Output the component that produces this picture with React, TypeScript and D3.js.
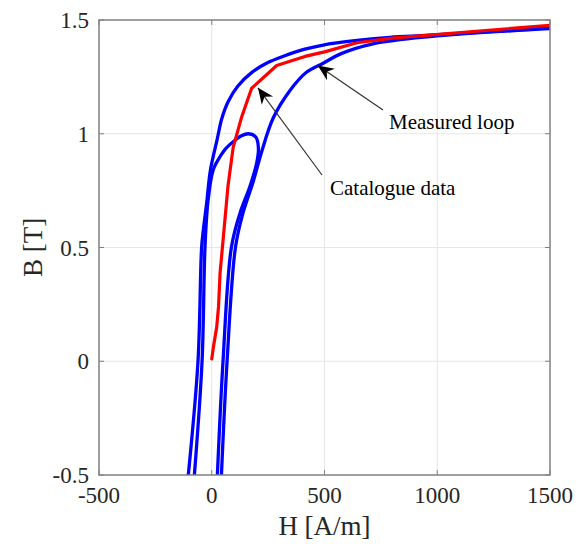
import React from "react";
import * as d3 from "d3";

// Major measured hysteresis loop, descending (upper) branch: [H (A/m), B (T)]
const majorUpper: [number, number][] = [
  [1500, 1.465], [968, 1.433], [790, 1.424], [644, 1.41], [494, 1.39], [413, 1.372],
  [324, 1.343], [249, 1.313], [178, 1.27], [116, 1.21], [72, 1.14], [44, 1.065],
  [24, 0.975], [-6, 0.84], [-22, 0.7], [-37, 0.58], [-45, 0.5], [-61, 0], [-104, -0.5],
];
// Major measured loop, ascending (lower) branch
const majorLower: [number, number][] = [
  [43, -0.5], [68, 0], [105, 0.5], [138, 0.65], [184, 0.79], [221, 0.92], [273, 1.07],
  [347, 1.19], [420, 1.27], [494, 1.31], [569, 1.35], [715, 1.395], [968, 1.427], [1500, 1.462],
];
// Minor measured loop (ascending branch then descending branch)
const minorLoop: [number, number][] = [
  [25, -0.5], [50, 0], [87, 0.5], [125, 0.65], [170, 0.77], [199, 0.87], [207, 0.935],
  [196, 0.985], [163, 1.0], [130, 0.99], [95, 0.965], [62, 0.935], [37, 0.9], [6, 0.84],
  [-17, 0.7], [-30, 0.5], [-43, 0], [-77, -0.5],
];
// Catalogue B-H curve
const catalogue: [number, number][] = [
  [0, 0.01], [7, 0.06], [22, 0.15], [30, 0.24], [37, 0.39], [50, 0.53], [72, 0.77],
  [95, 0.94], [133, 1.075], [177, 1.2], [288, 1.3], [413, 1.34], [500, 1.36], [644, 1.4],
  [800, 1.42], [1500, 1.477],
];

const xTicks = [-500, 0, 500, 1000, 1500];
const yTicks = [-0.5, 0, 0.5, 1, 1.5];
const xLabel = "H [A/m]";
const yLabel = "B [T]";
const annotations = [
  { text: "Measured loop", tip: [470, 1.3] as [number, number], tail: [383, 110], pos: [389, 129] },
  { text: "Catalogue data", tip: [205, 1.202] as [number, number], tail: [322, 175], pos: [330, 195] },
];

const W = 577, H = 544;
const L = 99, R = 550, T = 20, B = 475;

export default function App() {
  const x = d3.scaleLinear().domain([-500, 1500]).range([L, R]);
  const y = d3.scaleLinear().domain([-0.5, 1.5]).range([B, T]);
  const smooth = d3.line<[number, number]>().x(d => x(d[0])).y(d => y(d[1])).curve(d3.curveCatmullRom.alpha(0.5));
  const straight = d3.line<[number, number]>().x(d => x(d[0])).y(d => y(d[1]));
  const font = "'Liberation Serif', 'Times New Roman', serif";
  const axisColor = "#808080";

  const arrowHead = (tx: number, ty: number, fx: number, fy: number) => {
    const ang = Math.atan2(ty - fy, tx - fx);
    const len = 16, hw = 7, notch = 11;
    const pts = [
      [0, 0], [-len, -hw], [-notch, 0], [-len, hw],
    ].map(([a, b]) => [tx + a * Math.cos(ang) - b * Math.sin(ang), ty + a * Math.sin(ang) + b * Math.cos(ang)]);
    return "M" + pts.map(p => p.join(",")).join("L") + "Z";
  };

  return (
    <svg width={W} height={H} style={{ position: "absolute", left: 0, top: 0, background: "#fff" }}>
      <defs>
        <clipPath id="plot"><rect x={L} y={T} width={R - L} height={B - T} /></clipPath>
      </defs>
      {xTicks.slice(1, -1).map(t => (
        <line key={"gx" + t} x1={x(t)} x2={x(t)} y1={T} y2={B} stroke="#e6e6e6" strokeWidth={1} />
      ))}
      {yTicks.slice(1, -1).map(t => (
        <line key={"gy" + t} x1={L} x2={R} y1={y(t)} y2={y(t)} stroke="#e6e6e6" strokeWidth={1} />
      ))}
      <g clipPath="url(#plot)" fill="none" strokeLinejoin="round" strokeLinecap="round">
        <path d={smooth(majorUpper) || ""} stroke="#0000ff" strokeWidth={3.3} />
        <path d={smooth(majorLower) || ""} stroke="#0000ff" strokeWidth={3.3} />
        <path d={smooth(minorLoop) || ""} stroke="#0000ff" strokeWidth={3.3} />
        <path d={straight(catalogue) || ""} stroke="#ff0000" strokeWidth={3.2} />
      </g>
      <rect x={L} y={T} width={R - L} height={B - T} fill="none" stroke={axisColor} strokeWidth={1.5} />
      {xTicks.map(t => (
        <g key={"tx" + t}>
          <line x1={x(t)} x2={x(t)} y1={B} y2={B - 5} stroke={axisColor} />
          <line x1={x(t)} x2={x(t)} y1={T} y2={T + 5} stroke={axisColor} />
          <text x={x(t)} y={503} textAnchor="middle" fontFamily={font} fontSize={23} fill="#262626">{t}</text>
        </g>
      ))}
      {yTicks.map(t => (
        <g key={"ty" + t}>
          <line x1={L} x2={L + 5} y1={y(t)} y2={y(t)} stroke={axisColor} />
          <line x1={R} x2={R - 5} y1={y(t)} y2={y(t)} stroke={axisColor} />
          <text x={89} y={y(t) + 8} textAnchor="end" fontFamily={font} fontSize={23} fill="#262626">{t}</text>
        </g>
      ))}
      <text x={(L + R) / 2} y={535} textAnchor="middle" fontFamily={font} fontSize={27} fill="#262626">{xLabel}</text>
      <text transform={`translate(42,${(T + B) / 2}) rotate(-90)`} textAnchor="middle" fontFamily={font} fontSize={27} fill="#262626">{yLabel}</text>
      {annotations.map(a => {
        const tx = x(a.tip[0]), ty = y(a.tip[1]);
        return (
          <g key={a.text}>
            <line x1={a.tail[0]} y1={a.tail[1]} x2={tx} y2={ty} stroke="#333" strokeWidth={1.2} />
            <path d={arrowHead(tx, ty, a.tail[0], a.tail[1])} fill="#000" />
            <text x={a.pos[0]} y={a.pos[1]} fontFamily={font} fontSize={21} fill="#000">{a.text}</text>
          </g>
        );
      })}
    </svg>
  );
}
